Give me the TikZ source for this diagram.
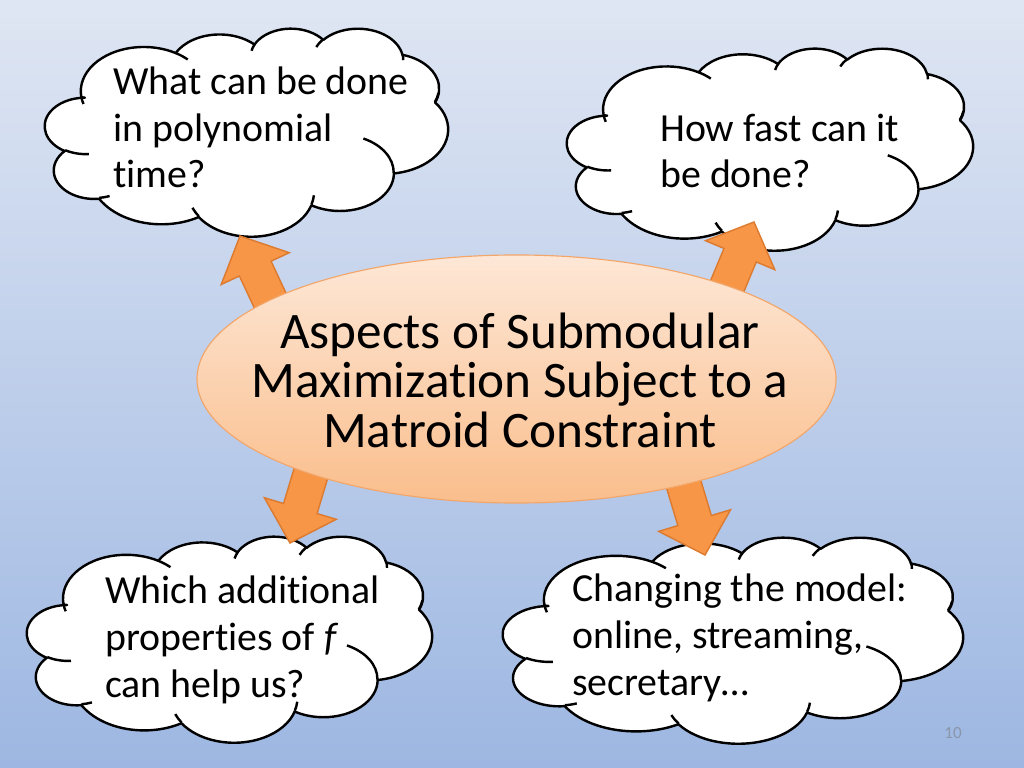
\documentclass[tikz,border=0pt]{standalone}
\usepackage{fontspec}
\setmainfont{Carlito}[Ligatures=NoCommon]
\usetikzlibrary{calc,shapes.geometric}
\definecolor{bgtop}{HTML}{DFE6F3}
\definecolor{bgbot}{HTML}{9DB7E2}
\definecolor{ellTop}{HTML}{FDE7D6}
\definecolor{ellBot}{HTML}{FABE8C}
\definecolor{ellLine}{HTML}{F2A66A}
\definecolor{arrFill}{HTML}{F79646}
\definecolor{arrLine}{HTML}{DC7B30}
\definecolor{pgnum}{HTML}{8A96AA}

% arc with OOXML-style (visual) angles -> TikZ parametric angles
\newcommand\mkcarc[5]{%
 \pgfmathsetmacro\cA{atan2((#2)*sin(#4),(#3)*cos(#4))}%
 \pgfmathsetmacro\cB{atan2((#2)*sin((#4)+(#5)),(#3)*cos((#4)+(#5)))}%
 \pgfmathsetmacro\cD{\cB-\cA}%
 \ifdim #5pt>0pt \ifdim \cD pt<0pt \pgfmathsetmacro\cD{\cD+360}\fi
 \else \ifdim \cD pt>0pt \pgfmathsetmacro\cD{\cD-360}\fi \fi
 \edef\mktmp{\noexpand\tikzset{#1/.style={start angle=\cA, delta angle=\cD, x radius=#2, y radius=#3}}}\mktmp}
\mkcarc{cl1}{67.53}{91.90}{-190.4875}{123.7805}
\mkcarc{cl2}{53.33}{72.67}{-144.1024}{89.9452}
\mkcarc{cl3}{43.65}{59.45}{-145.8079}{99.7230}
\mkcarc{cl4}{48.57}{65.95}{-130.9861}{117.2417}
\mkcarc{cl5}{53.33}{72.73}{-78.7089}{109.0269}
\mkcarc{cl6}{67.75}{92.20}{-46.2673}{130.2690}
\mkcarc{cl7}{57.85}{78.67}{0.6250}{114.0333}
\mkcarc{cl8}{67.52}{92.15}{22.4516}{115.1726}
\mkcarc{cl9}{77.20}{105.43}{66.2426}{75.7110}
\mkcarc{cl10}{43.60}{59.18}{-274.9421}{146.7356}
\mkcarc{cl11}{43.45}{59.45}{-246.8285}{156.4904}
\mkcarc{ci1}{43.45}{59.45}{86.742}{26.4295}
\mkcarc{ci2}{43.60}{59.18}{73.6105}{11.4475}
\mkcarc{ci3}{67.52}{92.15}{137.6242}{14.0811}
\mkcarc{ci4}{67.52}{92.15}{6.4533}{15.9984}
\mkcarc{ci5}{57.85}{78.67}{-70.2924}{70.9174}
\mkcarc{ci6}{53.33}{72.73}{30.3180}{-19.1639}
\mkcarc{ci7}{48.57}{65.95}{-13.7443}{14.8557}
\mkcarc{ci8}{48.57}{65.95}{-149.1815}{18.1954}
\mkcarc{ci9}{43.65}{59.45}{-163.4943}{17.6864}
\mkcarc{ci10}{67.53}{91.90}{-66.7070}{12.3194}
\mkcarc{ci11}{67.53}{91.90}{157.6544}{11.8582}

\tikzset{
 cloudline/.style={line width=1.7pt, draw=black, line join=round},
 blockarrowstyle/.style={fill=arrFill, draw=arrLine, line width=1pt, line join=miter},
 cloudtext/.style={anchor=base west, align=left, inner sep=0pt, font=\fontsize{28}{33}\selectfont},
}

\newcommand\cloudat[4]{%
 \begin{scope}[shift={(#1,#2)}, xscale=#3/432, yscale=#4/432]
 \draw[cloudline, fill=white] (39.00,143.70) arc[cl1] arc[cl2] arc[cl3] arc[cl4] arc[cl5] arc[cl6] arc[cl7] arc[cl8] arc[cl9] arc[cl10] arc[cl11] -- cycle;
 \draw[cloudline] (46.93,261.77) arc[ci1] (69.28,348.99) arc[ci2] (164.78,390.90) arc[ci3] (288.27,347.51) arc[ci4] (341.29,229.54) arc[ci5] (417.98,153.54) arc[ci6] (383.24,54.26) arc[ci7] (290.78,39.52) arc[ci8] (221.41,47.20) arc[ci9] (140.00,51.92) arc[ci10] (41.27,157.89) arc[ci11];
 \end{scope}}

\newcommand\blockarrow[2]{%
 \coordinate (#1h) at ($(#2)!25.3pt!(#1)$);
 \draw[blockarrowstyle] ($(#1)!12.3pt!90:(#2)$) -- ($(#1h)!12.3pt!90:(#2)$) -- ($(#1h)!26.4pt!90:(#2)$) -- (#2)
   -- ($(#1h)!26.4pt!-90:(#2)$) -- ($(#1h)!12.3pt!-90:(#2)$) -- ($(#1)!12.3pt!-90:(#2)$) -- cycle;}

\begin{document}
\begin{tikzpicture}[x=0.703125pt, y=-0.703125pt]
\useasboundingbox (0,0) rectangle (1024,768);
\fill[top color=bgtop, bottom color=bgbot] (0,0) rectangle (1024,768);

% clouds
\cloudat{45}{28}{403}{208}
\cloudat{567}{48}{406}{202}
\cloudat{27}{536}{405}{206}
\cloudat{503}{537}{460}{206}

% block arrows (base inside the ellipse, tip at the cloud)
\coordinate (a1b) at (276,313); \coordinate (a1t) at (240,236);
\coordinate (a2b) at (721,301); \coordinate (a2t) at (754,222);
\coordinate (a3b) at (314,463); \coordinate (a3t) at (290,543);
\coordinate (a4b) at (680,472); \coordinate (a4t) at (705,555);
\blockarrow{a1b}{a1t}
\blockarrow{a2b}{a2t}
\blockarrow{a3b}{a3t}
\blockarrow{a4b}{a4t}

% central ellipse
\node[ellipse, minimum width=449.3pt, minimum height=174.4pt, inner sep=0pt,
      draw=ellLine, line width=0.8pt, top color=ellTop, bottom color=ellBot] (center) at (516.5,379) {};
\node[anchor=base, align=center, inner sep=0pt, font=\fontsize{36}{34.5}\selectfont] (ctext) at (520,447)
  {Aspects of Submodular\\Maximization Subject to a\\Matroid Constraint};

% cloud texts
\node[cloudtext] (q1) at (113,188) {What can be done\\in polynomial\\time?};
\node[cloudtext] (q2) at (660,188) {How fast can it\\be done?};
\node[cloudtext] (q3) at (105,697) {Which additional\\properties of \textit{f}\\can help us?};
\node[cloudtext] (q4) at (572,695) {Changing the model:\\online, streaming,\\secretary…};

\node[text=pgnum, font=\fontsize{12}{14}\selectfont, inner sep=0pt] (pg) at (953,733) {10};
\end{tikzpicture}
\end{document}
